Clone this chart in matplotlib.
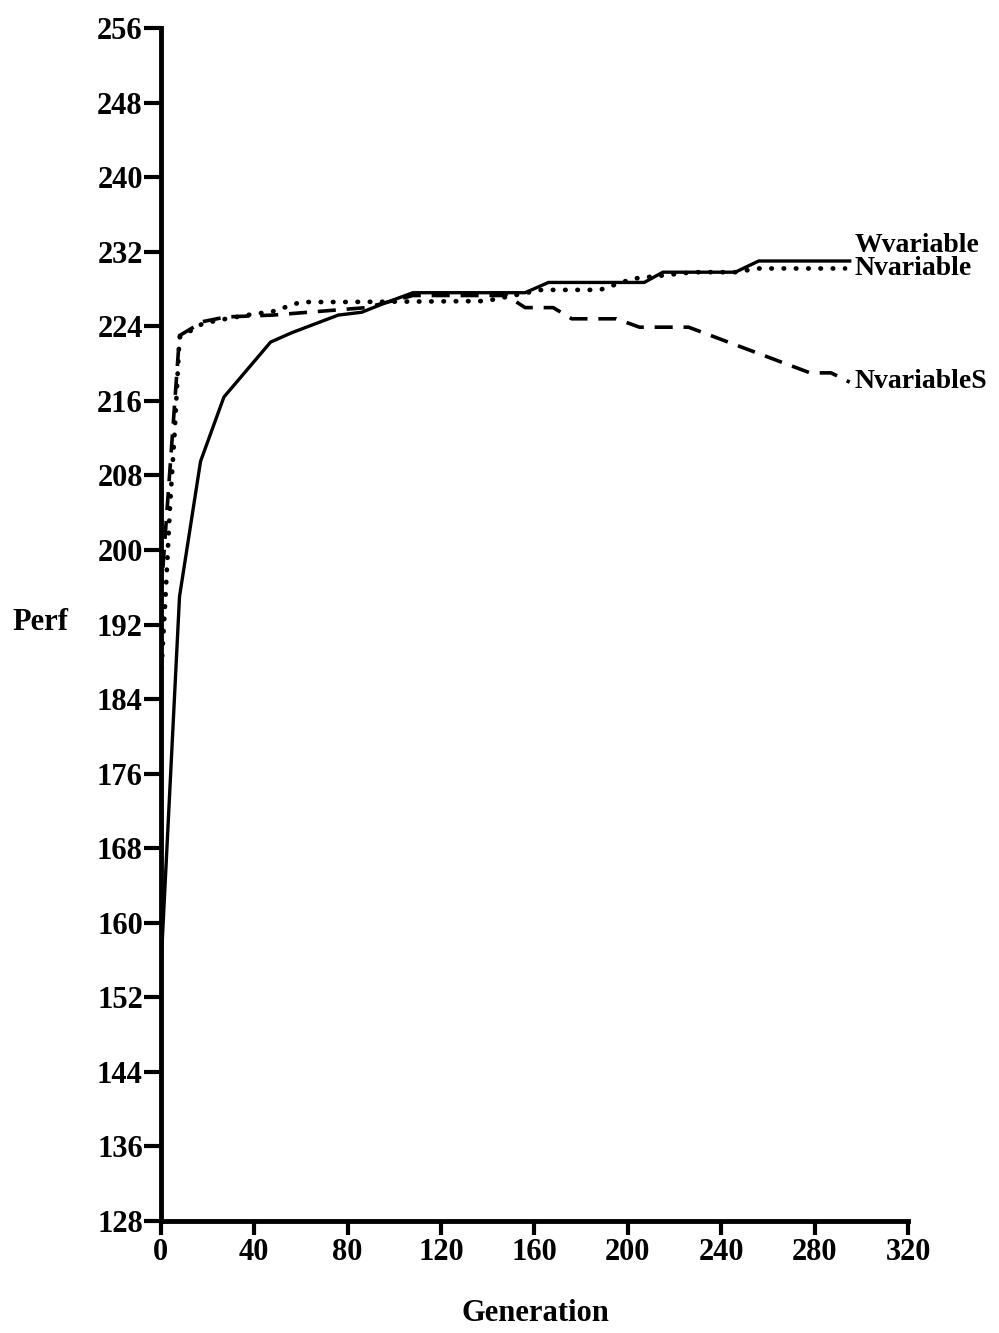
import numpy as np
import matplotlib
matplotlib.use('Agg')
import matplotlib.pyplot as plt

# Best performance per generation for the three runs
gen_w = [0, 8, 17, 27, 47, 56, 76, 86, 96, 108, 156, 166, 207, 215, 246, 256, 295]
perf_w = [155, 195, 209.5, 216.4, 222.3, 223.3, 225.2, 225.5, 226.5, 227.6,
          227.6, 228.7, 228.7, 229.8, 229.8, 231.0, 231.0]

gen_n = [0, 2, 4, 6, 8, 18, 28, 37, 48, 60, 76, 139, 163, 188, 202, 228, 246, 256, 293]
perf_n = [186, 195, 205, 213, 222.8, 224.3, 224.8, 225.2, 225.6, 226.6, 226.6,
          226.7, 227.9, 227.9, 229.1, 229.8, 229.8, 230.2, 230.2]

gen_s = [0, 8, 18, 28, 48, 88, 108, 148, 156, 168, 176, 195, 205, 226, 278, 287, 295]
perf_s = [195, 223.0, 224.5, 225.0, 225.2, 226.0, 227.3, 227.3, 226.0, 226.0,
          224.8, 224.8, 223.9, 223.9, 219.0, 219.0, 218.0]

y_ticks = np.arange(128, 257, 8)
x_ticks = np.arange(0, 321, 40)

plt.rcParams['font.family'] = ['Liberation Serif', 'DejaVu Serif']
plt.rcParams['font.weight'] = 'bold'

fig = plt.figure(figsize=(9.99, 13.33), dpi=100)
ax = fig.add_axes([0.161, 0.084, 0.748, 0.895])

ax.plot(gen_w, perf_w, color='black', lw=2.4, solid_joinstyle='miter')
ax.plot(gen_n, perf_n, color='black', lw=3.4, linestyle=(0, (0.1, 2.5)),
        dash_capstyle='round')
ax.plot(gen_s, perf_s, color='black', lw=2.6, linestyle=(0, (5, 3)))

ax.set_xlim(0, 320)
ax.set_ylim(128, 256)
ax.set_xticks(x_ticks)
ax.set_yticks(y_ticks)
ax.tick_params(axis='y', direction='out', width=3, length=12,
               labelsize=22, pad=1)
ax.tick_params(axis='x', direction='out', width=3, length=10,
               labelsize=22, pad=2)
for side in ['top', 'right']:
    ax.spines[side].set_visible(False)
for side in ['left', 'bottom']:
    ax.spines[side].set_linewidth(3.5)

fig.text(0.040, 0.533, 'Perf', fontsize=22, ha='center', va='center')
fig.text(0.536, 0.015, 'Generation', fontsize=22, ha='center', va='center')

ax.annotate('Wvariable', xy=(297, 232.0), fontsize=20, ha='left', va='baseline')
ax.annotate('Nvariable', xy=(297, 229.5), fontsize=20, ha='left', va='baseline')
ax.annotate('NvariableS', xy=(297, 217.4), fontsize=20, ha='left', va='baseline')

fig.savefig('out.png', dpi=100)
